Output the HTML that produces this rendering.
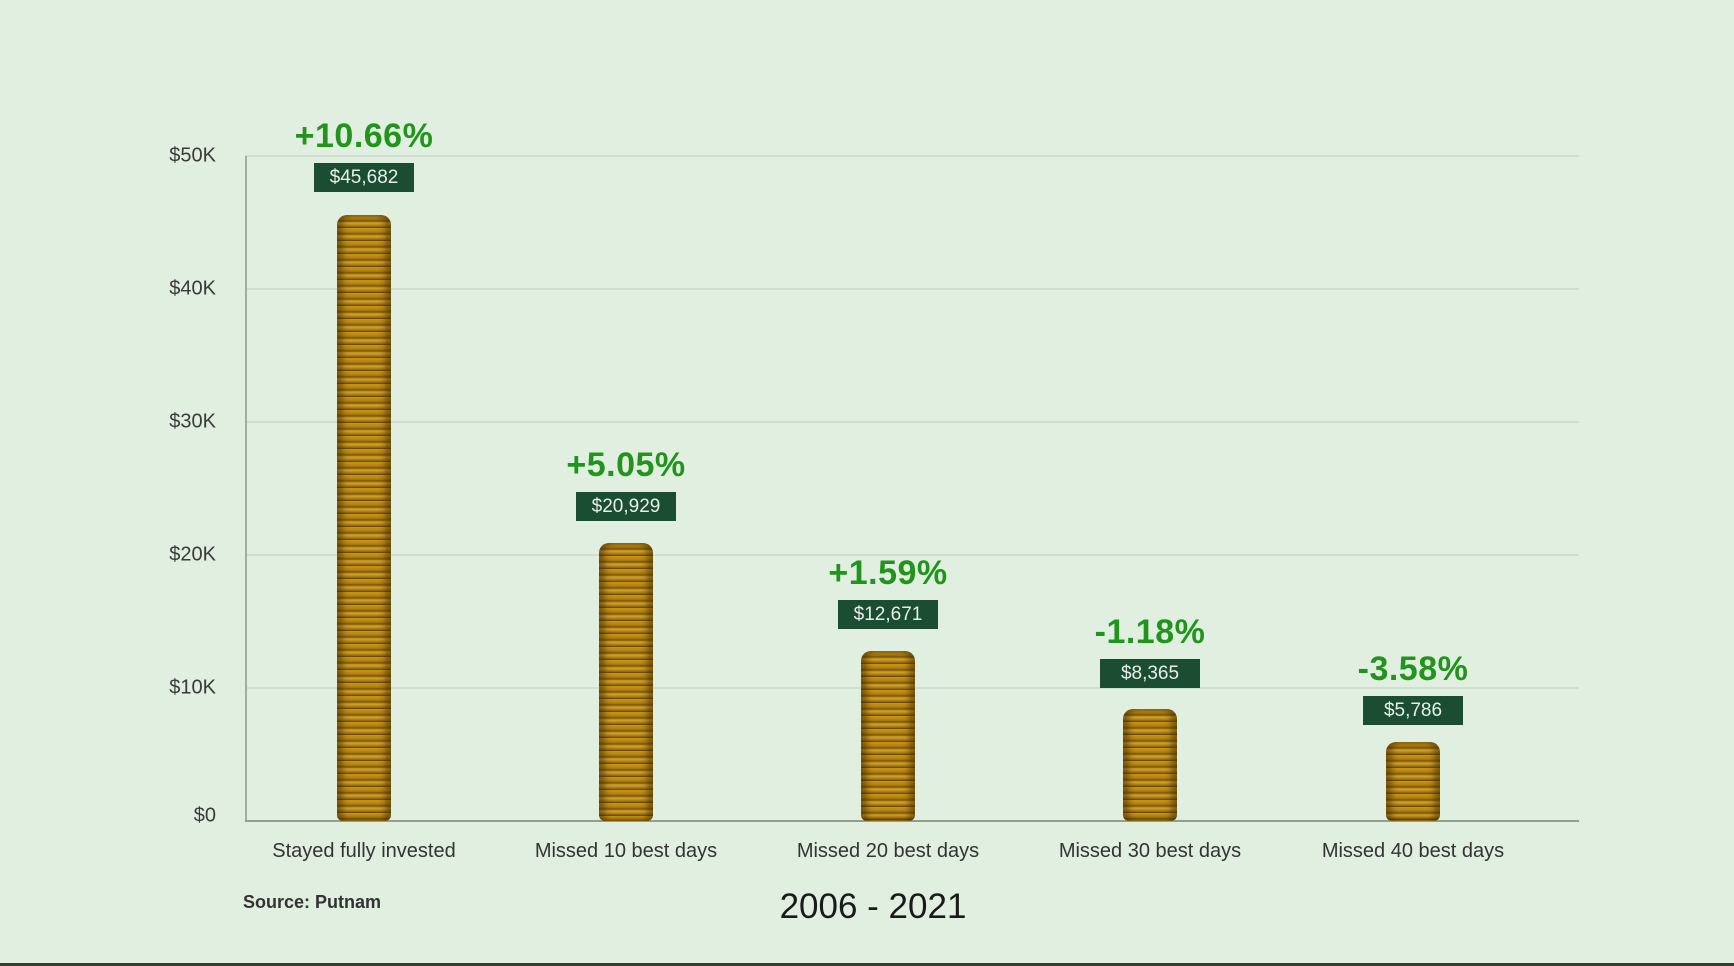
<!DOCTYPE html>
<html><head><meta charset="utf-8"><style>
*{margin:0;padding:0;box-sizing:border-box}
body{width:1734px;height:966px;background:#e0efdf;position:relative;overflow:hidden;font-family:"Liberation Sans",sans-serif}
.g{position:absolute;left:245px;width:1334px;height:2px;background:#cfdfcf}
.yl{position:absolute;right:1518px;font-size:20px;color:#3a3a3a;transform:translateY(-50%)}
.bar{position:absolute;width:54px;bottom:145px;border-radius:10px 10px 6px 6px;
background:repeating-linear-gradient(180deg,#c9961a 0px,#b07f12 4px,#7a5508 6px,#d4a52a 8px,#a57812 11px,#5e4006 13px);
box-shadow:inset 6px 0 6px rgba(60,40,0,.5),inset -6px 0 6px rgba(60,40,0,.5)}
.box{position:absolute;width:100px;height:29px;background:#1b4d33;color:#e8efe8;font-size:19px;text-align:center;line-height:29px}
.pct{position:absolute;width:200px;text-align:center;font-weight:bold;font-size:34px;letter-spacing:0.5px;color:#22941e}
.cat{position:absolute;top:840px;width:240px;text-align:center;font-size:20px;color:#333}
</style></head><body>
<div class="g" style="top:155px"></div>
<div class="g" style="top:288px"></div>
<div class="g" style="top:421px"></div>
<div class="g" style="top:554px"></div>
<div class="g" style="top:687px"></div>
<div style="position:absolute;left:245px;top:156px;width:2px;height:666px;background:#9fb0a0"></div>
<div style="position:absolute;left:245px;top:820px;width:1334px;height:2px;background:#8fa090"></div>
<div class="yl" style="top:156px">$50K</div>
<div class="yl" style="top:289px">$40K</div>
<div class="yl" style="top:422px">$30K</div>
<div class="yl" style="top:555px">$20K</div>
<div class="yl" style="top:688px">$10K</div>
<div class="yl" style="top:816px">$0</div>

<div class="bar" style="left:337px;height:606px"></div>
<div class="bar" style="left:599px;height:278px"></div>
<div class="bar" style="left:861px;height:170px"></div>
<div class="bar" style="left:1123px;height:112px"></div>
<div class="bar" style="left:1386px;height:79px"></div>

<div class="box" style="left:314px;top:163px">$45,682</div>
<div class="box" style="left:576px;top:492px">$20,929</div>
<div class="box" style="left:838px;top:600px">$12,671</div>
<div class="box" style="left:1100px;top:659px">$8,365</div>
<div class="box" style="left:1363px;top:696px">$5,786</div>

<div class="pct" style="left:264px;top:117px">+10.66%</div>
<div class="pct" style="left:526px;top:446px">+5.05%</div>
<div class="pct" style="left:788px;top:554px">+1.59%</div>
<div class="pct" style="left:1050px;top:613px">-1.18%</div>
<div class="pct" style="left:1313px;top:650px">-3.58%</div>

<div class="cat" style="left:244px">Stayed fully invested</div>
<div class="cat" style="left:506px">Missed 10 best days</div>
<div class="cat" style="left:768px">Missed 20 best days</div>
<div class="cat" style="left:1030px">Missed 30 best days</div>
<div class="cat" style="left:1293px">Missed 40 best days</div>

<div style="position:absolute;left:243px;top:892px;font-size:18px;font-weight:bold;color:#333">Source: Putnam</div>
<div style="position:absolute;left:673px;top:887px;width:400px;text-align:center;font-size:35px;color:#1a1a1a">2006 - 2021</div>
<div style="position:absolute;left:0;top:963px;width:1734px;height:3px;background:#3a3a3a"></div>
</body></html>
